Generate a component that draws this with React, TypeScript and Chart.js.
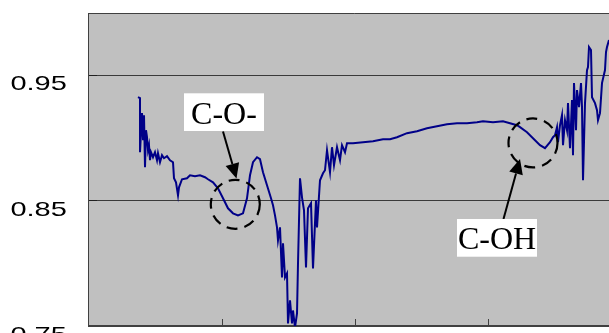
import React, { useEffect, useRef } from 'react';
import { Chart, registerables } from 'chart.js';

Chart.register(...registerables);

// Spectrum trace (x in arbitrary axis units, y = reflectance-like ratio)
const xValues = [
  49, 51, 51, 53, 54, 55, 56, 57, 58, 59, 60, 61, 62, 64, 66, 68, 69, 71, 73, 75,
  78, 81, 84, 85, 87, 89, 90, 93, 98, 101, 106, 111, 116, 119, 124, 129, 134, 139, 144, 149,
  154, 158, 161, 164, 168, 171, 174, 178, 182, 184, 186, 188, 189, 191, 193, 194, 196, 198, 199, 201,
  203, 204, 206, 208, 209, 211, 213, 215, 217, 219, 222, 224, 227, 228, 231, 234, 236, 238, 241, 243,
  245, 248, 251, 253, 256, 258, 264, 274, 284, 294, 301, 308, 318, 328, 338, 348, 358, 368, 378, 388,
  394, 404, 414, 421, 428, 431, 438, 444, 451, 456, 461, 464, 466, 468, 469, 471, 473, 474, 476, 478,
  479, 481, 483, 484, 485, 487, 488, 490, 492, 493, 494, 496, 498, 499, 500, 502, 503, 506, 508, 509,
  511, 513, 516, 517, 518, 520,
];
const yValues = [
  0.9328, 0.932, 0.8888, 0.92, 0.8984, 0.9184, 0.8768, 0.9064, 0.9008, 0.8904, 0.8944, 0.8824, 0.8888, 0.8848, 0.8888, 0.8824, 0.888, 0.8808, 0.8864, 0.884,
  0.8856, 0.8824, 0.8808, 0.868, 0.8648, 0.8544, 0.8608, 0.8672, 0.868, 0.8704, 0.8696, 0.8704, 0.8688, 0.8672, 0.8648, 0.86, 0.852, 0.844, 0.84, 0.8384,
  0.84, 0.852, 0.8704, 0.8808, 0.8848, 0.8832, 0.8728, 0.8624, 0.852, 0.8464, 0.8384, 0.8288, 0.8184, 0.8288, 0.7888, 0.816, 0.7888, 0.792, 0.752, 0.7704,
  0.752, 0.7624, 0.7488, 0.76, 0.8, 0.868, 0.8528, 0.8424, 0.7968, 0.844, 0.848, 0.796, 0.8504, 0.8288, 0.8664, 0.872, 0.8744, 0.8904, 0.8728, 0.8928,
  0.8784, 0.8928, 0.8824, 0.8944, 0.8888, 0.896, 0.896, 0.8968, 0.8976, 0.8992, 0.8992, 0.9008, 0.904, 0.9056, 0.908, 0.9096, 0.9112, 0.912, 0.912, 0.9128,
  0.9136, 0.9128, 0.9136, 0.912, 0.9104, 0.9088, 0.9048, 0.9, 0.8944, 0.892, 0.8968, 0.9008, 0.9024, 0.9088, 0.8968, 0.9104, 0.9184, 0.8944, 0.9144, 0.9064,
  0.928, 0.892, 0.9304, 0.8864, 0.944, 0.9064, 0.9384, 0.9248, 0.944, 0.9248, 0.8664, 0.928, 0.9544, 0.9568, 0.9728, 0.9704, 0.9328, 0.928, 0.9224, 0.9144,
  0.92, 0.944, 0.9544, 0.9688, 0.9728, 0.9784,
];

const yTickValues = [0.75, 0.85, 0.95];
const yTickLabels = ['0.75', '0.85', '0.95'];
const gridValues = [0.85, 0.95];
const xTickValues = [133, 266, 399];

// Annotations (data coordinates)
const annotationLabels = ['C-O-', 'C-OH'];
const annotationBoxX = [135, 408];
const annotationBoxY = [0.9208, 0.8204];
const circleX = [146.3, 444];
const circleY = [0.8472, 0.8962];
const arrowFromX = [134, 414.5];
const arrowFromY = [0.9053, 0.8355];
const arrowToX = [147.5, 431];
const arrowToY = [0.8678, 0.8834];

const framePlugin = {
  id: 'frame',
  beforeDatasetsDraw(chart: any) {
    const { ctx, chartArea: a, scales } = chart;
    const ys = scales.y;
    const xs = scales.x;
    ctx.save();
    ctx.fillStyle = '#c0c0c0';
    ctx.fillRect(a.left, a.top, a.right - a.left, a.bottom - a.top);
    ctx.strokeStyle = '#3a3a3a';
    ctx.lineWidth = 1;
    for (const v of gridValues) {
      const py = Math.floor(ys.getPixelForValue(v)) + 0.5;
      ctx.beginPath();
      ctx.moveTo(a.left, py);
      ctx.lineTo(a.right, py);
      ctx.stroke();
      ctx.strokeStyle = '#202020';
      ctx.beginPath();
      ctx.moveTo(a.left, py);
      ctx.lineTo(a.left + 8, py);
      ctx.stroke();
      ctx.strokeStyle = '#3a3a3a';
    }
    // borders
    ctx.strokeStyle = '#404040';
    ctx.beginPath();
    ctx.moveTo(a.left - 0.5, a.top + 0.5);
    ctx.lineTo(a.right, a.top + 0.5);
    ctx.stroke();
    ctx.beginPath();
    ctx.moveTo(a.left - 0.5, a.top);
    ctx.lineTo(a.left - 0.5, a.bottom + 1);
    ctx.stroke();
    ctx.lineWidth = 2;
    ctx.beginPath();
    ctx.moveTo(a.left - 1, a.bottom);
    ctx.lineTo(a.right, a.bottom);
    ctx.stroke();
    ctx.lineWidth = 1;
    for (const v of xTickValues) {
      const px = Math.floor(xs.getPixelForValue(v)) + 0.5;
      ctx.beginPath();
      ctx.moveTo(px, a.bottom - 7);
      ctx.lineTo(px, a.bottom);
      ctx.stroke();
    }
    // y tick labels
    ctx.fillStyle = '#000000';
    ctx.font = '21px "Liberation Sans", Arial, sans-serif';
    ctx.textAlign = 'left';
    ctx.textBaseline = 'alphabetic';
    yTickValues.forEach((v, i) => {
      const py = ys.getPixelForValue(v);
      ctx.save();
      ctx.translate(10.4, py + 14.8);
      ctx.scale(1.38, 1);
      ctx.fillText(yTickLabels[i], 0, 0);
      ctx.restore();
    });
    ctx.restore();
  },
  afterDatasetsDraw(chart: any) {
    const { ctx, scales } = chart;
    const xs = scales.x;
    const ys = scales.y;
    ctx.save();
    annotationLabels.forEach((label, i) => {
      // dashed circle
      const cx = xs.getPixelForValue(circleX[i]);
      const cy = ys.getPixelForValue(circleY[i]);
      ctx.strokeStyle = '#000000';
      ctx.lineWidth = 2.2;
      ctx.setLineDash([11, 7]);
      ctx.beginPath();
      ctx.arc(cx, cy, 24.5, 0, Math.PI * 2);
      ctx.stroke();
      ctx.setLineDash([]);
      // arrow
      const x1 = xs.getPixelForValue(arrowFromX[i]);
      const y1 = ys.getPixelForValue(arrowFromY[i]);
      const x2 = xs.getPixelForValue(arrowToX[i]);
      const y2 = ys.getPixelForValue(arrowToY[i]);
      const ang = Math.atan2(y2 - y1, x2 - x1);
      const hl = 15;
      const hw = 7;
      const bx = x2 - hl * Math.cos(ang);
      const by = y2 - hl * Math.sin(ang);
      ctx.lineWidth = 2;
      ctx.beginPath();
      ctx.moveTo(x1, y1);
      ctx.lineTo(bx, by);
      ctx.stroke();
      ctx.fillStyle = '#000000';
      ctx.beginPath();
      ctx.moveTo(x2, y2);
      ctx.lineTo(bx + hw * Math.sin(ang), by - hw * Math.cos(ang));
      ctx.lineTo(bx - hw * Math.sin(ang), by + hw * Math.cos(ang));
      ctx.closePath();
      ctx.fill();
      // label box
      const bxc = xs.getPixelForValue(annotationBoxX[i]);
      const byc = ys.getPixelForValue(annotationBoxY[i]);
      const w = 80;
      const h = 37.7;
      ctx.fillStyle = '#ffffff';
      ctx.fillRect(bxc - w / 2, byc - h / 2, w, h);
      ctx.fillStyle = '#000000';
      ctx.font = '32px "Liberation Serif", "Times New Roman", serif';
      ctx.textAlign = 'center';
      ctx.textBaseline = 'alphabetic';
      ctx.fillText(label, bxc, byc - h / 2 + 30.2);
    });
    ctx.restore();
  },
};

export default function App() {
  const canvasRef = useRef<HTMLCanvasElement | null>(null);

  useEffect(() => {
    document.body.style.margin = '0';
    const canvas = canvasRef.current;
    if (!canvas) return;
    const chart = new Chart(canvas, {
      type: 'line',
      data: {
        datasets: [
          {
            data: xValues.map((x, i) => ({ x, y: yValues[i] })),
            borderColor: '#000088',
            borderWidth: 2,
            pointRadius: 0,
            fill: false,
            tension: 0,
          },
        ],
      },
      options: {
        animation: false,
        responsive: false,
        devicePixelRatio: 1,
        layout: { padding: { left: 89, top: 13, right: 19, bottom: 19 } },
        plugins: { legend: { display: false }, tooltip: { enabled: false } },
        scales: {
          x: { type: 'linear', display: false, min: 0, max: 532 },
          y: { type: 'linear', display: false, min: 0.75, max: 1.0 },
        },
      },
      plugins: [framePlugin],
    });
    return () => chart.destroy();
  }, []);

  return (
    <div
      style={{
        position: 'fixed',
        left: 0,
        top: 0,
        width: 609,
        height: 333,
        overflow: 'hidden',
        background: '#ffffff',
      }}
    >
      <canvas ref={canvasRef} width={640} height={345} style={{ width: 640, height: 345, display: 'block' }} />
    </div>
  );
}
